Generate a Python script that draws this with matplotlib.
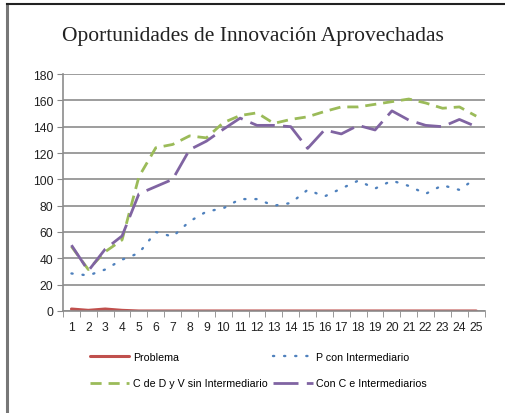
import numpy as np
import matplotlib.pyplot as plt
from matplotlib.lines import Line2D

# data
periodos = list(range(1, 26))
problema = [1.5, 0.5, 1.5, 0.5, 0, 0, 0, 0, 0, 0, 0, 0, 0, 0, 0, 0, 0, 0, 0, 0, 0, 0, 0, 0, 0]
p_con_intermediario = [28.5, 27, 31.5, 39, 44, 60, 56.5, 68, 75.5, 78, 85, 85, 80, 82, 92, 87,
                       93, 99, 93, 99, 95, 89, 95.5, 92, 101]
c_sin_intermediario = [49, 31.5, 45, 54, 102, 124, 126.5, 133, 131.5, 143, 148.5, 150.5, 142.5, 145.5,
                       147.5, 151.5, 155, 155, 157, 159, 161, 158, 154, 155, 148]
con_c_intermediarios = [50, 30.5, 47, 57, 89, 94.5, 100, 122.5, 129, 138, 146.5, 141, 141, 140, 123.5,
                        137.5, 134.5, 141, 137.5, 152, 145, 141, 140, 145.5, 140]
etiquetas = ['Problema', 'P con Intermediario', 'C de D y V sin Intermediario', 'Con C e Intermediarios']

fig = plt.figure(figsize=(5.05, 4.14), dpi=100)
ax = fig.add_axes([0.1248, 0.2464, 0.835, 0.5724])

x = np.array(periodos)
l1, = ax.plot(x, problema, color='#C0504D', lw=2.2, solid_capstyle='round')
l2, = ax.plot(x, p_con_intermediario, color='#4F81BD', lw=1.7, linestyle=(0, (0.5, 4.2)),
              dash_capstyle='round')
l3, = ax.plot(x, c_sin_intermediario, color='#9BBB59', lw=2, linestyle=(0, (4, 2.5)))
l4, = ax.plot(x, con_c_intermediarios, color='#8064A2', lw=2, linestyle=(0, (9, 3)))

ax.set_xlim(0.5, 25.5)
ax.set_ylim(0, 180)
ax.set_yticks(range(0, 181, 20))
ax.set_xticks(periodos)
ax.set_xticks(np.arange(0.5, 26, 1), minor=True)
ax.tick_params(axis='x', which='major', length=0, pad=7, labelsize=8.7, colors='#222222')
ax.tick_params(axis='x', which='minor', length=4, color='#888888')
ax.tick_params(axis='y', length=4, color='#888888', labelsize=8.7, colors='#222222', pad=3)
ax.tick_params(axis='y', colors='#888888', labelcolor='#222222')
ax.grid(axis='y', color='#8c8c8c', lw=1.2)
ax.set_axisbelow(True)
for s in ['top', 'right']:
    ax.spines[s].set_visible(False)
ax.spines['left'].set_color('#8c8c8c')
ax.spines['bottom'].set_color('#8c8c8c')
ax.spines['left'].set_linewidth(1.2)
ax.spines['bottom'].set_linewidth(1.2)
for lab in ax.get_xticklabels() + ax.get_yticklabels():
    lab.set_family('Liberation Sans')

fig.text(0.5, 0.912, 'Oportunidades de Innovación Aprovechadas', ha='center', va='center',
         fontsize=15.5, family='Liberation Serif', color='#222222')

# frame (only left and top edges visible in the original)
fig.add_artist(Line2D([0.0139, 0.0139], [0, 0.988], color='#777777', lw=2.2))
fig.add_artist(Line2D([0.0129, 1.0], [0.988, 0.988], color='#222222', lw=1.5))

# legend, rows: Problema / P con ; C de D / Con C
fig.legend([l1, l3, l2, l4], [etiquetas[0], etiquetas[2], etiquetas[1], etiquetas[3]],
           ncol=2, loc='upper left', bbox_to_anchor=(0.178, 0.148), frameon=False,
           handlelength=3.7, handletextpad=0.3, columnspacing=0.55, labelspacing=1.55,
           prop={'family': 'Liberation Sans', 'size': 7.7}, borderaxespad=0, borderpad=0)

fig.savefig('out.png', dpi=100)
